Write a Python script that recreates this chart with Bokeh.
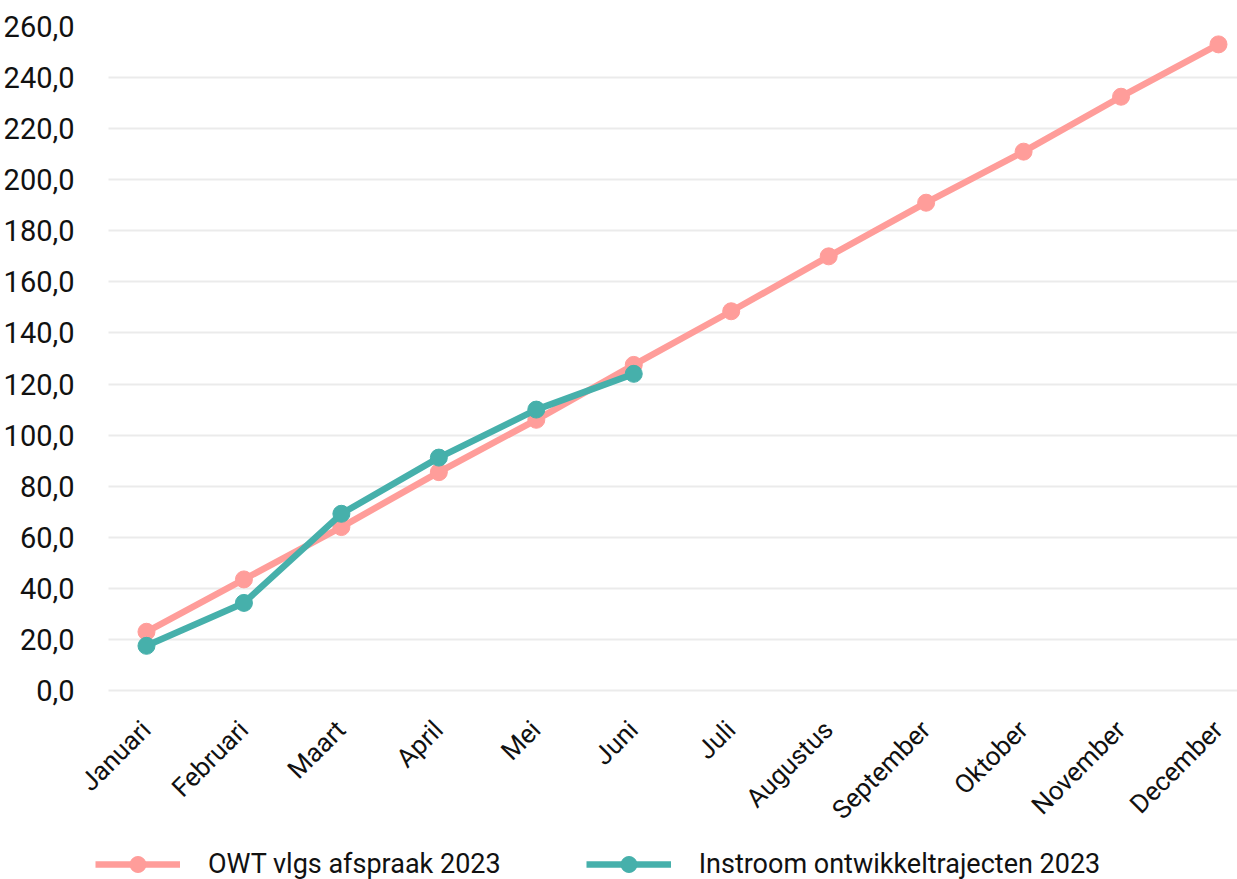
import math
from bokeh.plotting import figure
from bokeh.models import Range1d, FixedTicker, Legend, LegendItem, ColumnDataSource
from bokeh.core.properties import value
from bokeh.embed import file_html
from bokeh.resources import INLINE

months = ["Januari", "Februari", "Maart", "April", "Mei", "Juni", "Juli",
          "Augustus", "September", "Oktober", "November", "December"]
owt_afspraak = [23.0, 43.5, 64.0, 85.5, 106.0, 127.5, 148.5, 170.0, 191.0, 211.0, 232.5, 253.0]
instroom = [17.5, 34.3, 69.2, 91.2, 110.0, 124.0]
y_ticks = [0, 20, 40, 60, 80, 100, 120, 140, 160, 180, 200, 220, 240, 260]
series_names = ["OWT vlgs afspraak 2023", "Instroom ontwikkeltrajecten 2023"]

PINK = "#FF9D9A"
TEAL = "#46B0AB"
FONT = "Roboto"
TXT = "#111111"

xi = list(range(len(months)))
X_START, X_END = -0.677, 11.195      # visible x extent
GRID_START = -0.39                    # grid lines begin a little right of the labels

# frame spans to the bottom of the canvas; value 0 sits above the month labels
p = figure(width=1237, height=879, output_backend="svg", toolbar_location=None,
           x_range=Range1d(X_START, X_END), y_range=Range1d(-74.0, 260),
           x_axis_type=None,
           min_border_left=80, min_border_right=0, min_border_top=26,
           min_border_bottom=0)
p.outline_line_color = None
p.xgrid.grid_line_color = None

grid = p.ygrid[0]
if "cross_bounds" in grid.properties():
    grid.grid_line_color = "#EBEBEB"
    grid.grid_line_width = 2
    grid.cross_bounds = (GRID_START, X_END)
else:
    grid.grid_line_color = None
    p.segment(x0=[GRID_START] * len(y_ticks), x1=[X_END] * len(y_ticks),
              y0=y_ticks, y1=y_ticks, line_color="#EBEBEB", line_width=2)

p.yaxis.ticker = FixedTicker(ticks=y_ticks)
p.yaxis.major_label_overrides = {v: f"{v},0" for v in y_ticks}
p.yaxis.axis_line_color = None
p.yaxis.major_tick_line_color = None
p.yaxis.minor_tick_line_color = None
p.yaxis.major_label_text_font = FONT
p.yaxis.major_label_text_color = TXT
p.yaxis.major_label_text_font_size = "29px"
p.yaxis.major_label_standoff = 0

# month labels, rotated 45 degrees
lab_src = ColumnDataSource(dict(x=[i - 0.113 for i in xi],
                                y=[-9.4] * len(months), text=months))
p.text(x="x", y="y", text="text", source=lab_src, angle=math.pi / 4,
       text_align="right", text_baseline="top",
       text_font=value(FONT), text_font_size="26px", text_color=TXT)

l1 = p.line(xi, owt_afspraak, line_color=PINK, line_width=6.5)
s1 = p.scatter(xi, owt_afspraak, size=17, fill_color=PINK, line_color=PINK)
xi2 = xi[:len(instroom)]
l2 = p.line(xi2, instroom, line_color=TEAL, line_width=6.5)
s2 = p.scatter(xi2, instroom, size=17, fill_color=TEAL, line_color=TEAL)

legend = Legend(items=[
    LegendItem(label=series_names[0], renderers=[l1, s1]),
    LegendItem(label=series_names[1], renderers=[l2, s2]),
], orientation="horizontal", location=(15, -5))
legend.border_line_color = None
legend.background_fill_alpha = 0
legend.label_text_font = FONT
legend.label_text_font_size = "27px"
legend.label_text_color = TXT
legend.glyph_width = 85
legend.glyph_height = 40
legend.label_standoff = 28
legend.spacing = 85
legend.padding = 0
legend.margin = 0
p.add_layout(legend, "center")

open("out.html", "w").write(file_html(p, INLINE))
